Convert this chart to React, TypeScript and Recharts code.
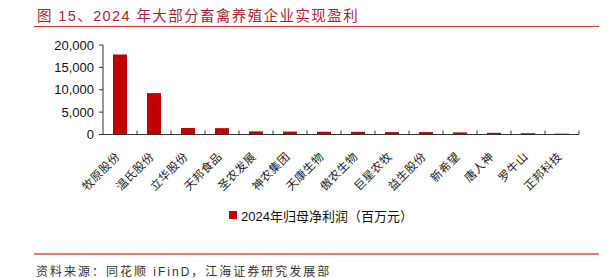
import React from 'react';
import { BarChart, Bar, XAxis, YAxis, Legend } from 'recharts';

const companies = ['牧原股份', '温氏股份', '立华股份', '天邦食品', '圣农发展', '神农集团', '天康生物', '傲农生物', '巨星农牧', '益生股份', '新希望', '唐人神', '罗牛山', '正邦科技'];
const profits = [17900, 9250, 1450, 1420, 700, 660, 620, 600, 540, 540, 470, 380, 290, 190];
const yTicks = [0, 5000, 10000, 15000, 20000];
const seriesName = '2024年归母净利润（百万元）';
const titleText = '图 15、2024 年大部分畜禽养殖企业实现盈利';
const sourceText = '资料来源：同花顺 iFinD，江海证券研究发展部';

const data = companies.map((name, i) => ({ name, profit: profits[i] }));

const FONT = '"Liberation Sans", "Noto Sans CJK SC", sans-serif';
const BAR = '#C00000';
const AXIS = '#333333';

const XTick = (props: any) => {
  const { x, y, payload } = props;
  const off = payload && typeof payload.offset === 'number' ? payload.offset : 17;
  const tx = x - 2;
  const ty = y + 20;
  return (
    <g>
      <line x1={x + off} y1={y} x2={x + off} y2={y - 4} stroke={AXIS} strokeWidth={1} />
      <text
        x={tx}
        y={ty}
        transform={`rotate(-45 ${tx} ${ty})`}
        textAnchor="end"
        dominantBaseline="central"
        fontSize={11.5}
        fill="#222"
        fontFamily={FONT}
        letterSpacing={0.5}
      >
        {payload.value}
      </text>
    </g>
  );
};

const LegendContent = () => (
  <div style={{ display: 'flex', alignItems: 'center', paddingLeft: 229, height: 18, fontFamily: FONT, fontSize: 13, color: '#111' }}>
    <span style={{ display: 'inline-block', width: 8, height: 8, background: BAR, marginRight: 4 }} />
    <span>{seriesName}</span>
  </div>
);

export default function App() {
  return (
    <div style={{ position: 'absolute', left: 0, top: 0, width: 616, height: 278, background: '#fff', overflow: 'hidden' }}>
      <div style={{ position: 'absolute', left: 37, top: 4, fontFamily: FONT, fontSize: 14.5, color: '#A51F36', letterSpacing: 1.4, whiteSpace: 'nowrap' }}>
        {titleText}
      </div>
      <div style={{ position: 'absolute', left: 34, top: 25.5, width: 565, height: 1.5, background: '#D0303A' }} />
      <div style={{ position: 'absolute', left: 34, top: 252.5, width: 565, height: 2, background: '#E77B7B' }} />
      <div style={{ position: 'absolute', left: 36, top: 262, fontFamily: FONT, fontSize: 12, color: '#333', letterSpacing: 2, whiteSpace: 'nowrap' }}>
        {sourceText}
      </div>
      <div style={{ position: 'absolute', left: 0, top: 0 }}>
        <BarChart width={616} height={278} data={data} margin={{ top: 45, right: 37, bottom: 65.5, left: 0 }} barSize={14}>
          <XAxis
            dataKey="name"
            interval={0}
            height={60}
            tickSize={0}
            tickMargin={0}
            tickLine={false}
            axisLine={{ stroke: AXIS, strokeWidth: 1 }}
            tick={<XTick />}
          />
          <YAxis
            width={103}
            domain={[0, 20000]}
            ticks={yTicks}
            interval={0}
            tickSize={4}
            tickMargin={5}
            axisLine={{ stroke: AXIS, strokeWidth: 1 }}
            tickLine={{ stroke: AXIS, strokeWidth: 1 }}
            tick={{ fontSize: 13, fill: '#111', fontFamily: FONT }}
            tickFormatter={(v: number) => v.toLocaleString('en-US')}
          />
          <Legend
            verticalAlign="bottom"
            content={<LegendContent />}
            wrapperStyle={{ top: 206, left: 0, width: 616, height: 18 }}
          />
          <Bar dataKey="profit" name={seriesName} fill={BAR} isAnimationActive={false} />
        </BarChart>
      </div>
    </div>
  );
}
